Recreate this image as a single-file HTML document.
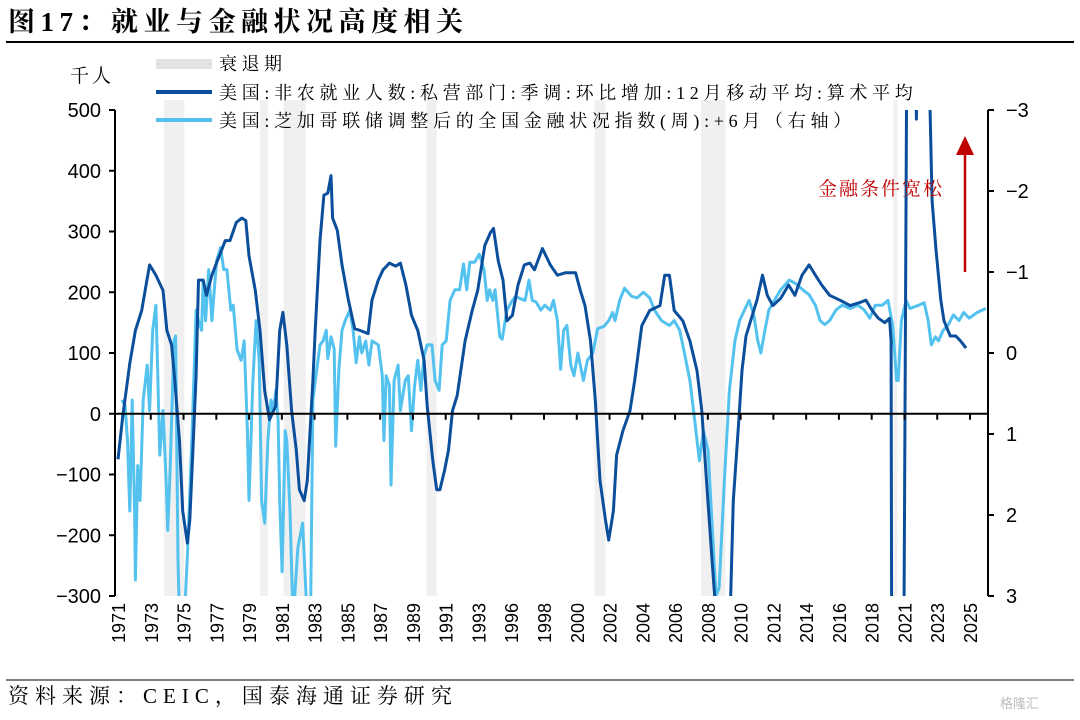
<!DOCTYPE html>
<html><head><meta charset="utf-8">
<style>
html,body{margin:0;padding:0;background:#fff;width:1080px;height:720px;overflow:hidden;}
svg{display:block;}
.serif{font-family:"Liberation Serif","Noto Serif CJK SC",serif;}
.sans{font-family:"Liberation Sans","Noto Sans CJK SC",sans-serif;}
</style></head>
<body>
<svg id="chart" width="1080" height="720" viewBox="0 0 1080 720">
  <text x="8" y="31" class="serif" font-size="27" font-weight="bold" letter-spacing="5.5" fill="#000">图17：就业与金融状况高度相关</text>
  <line x1="6" y1="42" x2="1074" y2="42" stroke="#000" stroke-width="2"/>
  <text x="70" y="82" class="serif" font-size="19" letter-spacing="3" fill="#000">千人</text>
  <g id="plot"></g>
  <g>
    <rect x="156" y="59" width="56" height="10" fill="#e3e3e3"/>
    <text x="219" y="70" class="serif" font-size="18" letter-spacing="4.5" fill="#000">衰退期</text>
    <line x1="156" y1="92" x2="212" y2="92" stroke="#0b4f9c" stroke-width="4"/>
    <text x="219" y="99" class="serif" font-size="18" letter-spacing="4.7" fill="#000">美国:非农就业人数:私营部门:季调:环比增加:12月移动平均:算术平均</text>
    <line x1="156" y1="120" x2="212" y2="120" stroke="#54c2ef" stroke-width="4"/>
    <text x="219" y="127" class="serif" font-size="18" letter-spacing="4.7" fill="#000">美国:芝加哥联储调整后的全国金融状况指数(周):+6月（右轴）</text>
  </g>
  <text x="818" y="195" class="serif" font-size="19" letter-spacing="2" fill="#c00000">金融条件宽松</text>
  <line x1="965" y1="272" x2="965" y2="152" stroke="#c00000" stroke-width="2.5"/>
  <polygon points="956,155 974,155 965,136" fill="#c00000"/>
  <line x1="6" y1="680" x2="1074" y2="680" stroke="#000" stroke-width="1"/>
  <text x="8" y="703" class="serif" font-size="21" letter-spacing="6" fill="#000">资料来源：CEIC，国泰海通证券研究</text>
  <text x="1000" y="708" class="sans" font-size="13" fill="#bbb">格隆汇</text>
</svg>
<script>
const recessions=[[1973.9,1975.2],[1980.0,1980.5],[1981.5,1982.9],[1990.55,1991.2],[2001.2,2001.9],[2007.95,2009.5],[2020.15,2020.4]];
const leftTicks=[500,400,300,200,100,0,-100,-200,-300];
const rightTicks=[-3,-2,-1,0,1,2,3];
const rightTickLabels=["−3","−2","−1","0","1","2","3"];
const yearLabels=["1971","1973","1975","1977","1979","1981","1983","1985","1987","1989","1991","1993","1996","1998","2000","2002","2004","2006","2008","2010","2012","2014","2016","2018","2021","2023","2025"];
const payrollYears=[1971.0,1971.3,1971.75,1972.1,1972.5,1972.8,1973.0,1973.4,1973.85,1974.1,1974.4,1974.6,1974.9,1975.1,1975.4,1975.55,1975.75,1975.95,1976.1,1976.4,1976.6,1976.95,1977.3,1977.8,1978.1,1978.5,1978.85,1979.1,1979.3,1979.7,1980.0,1980.3,1980.6,1981.0,1981.25,1981.45,1981.7,1982.0,1982.3,1982.5,1982.8,1983.0,1983.35,1983.5,1983.8,1984.05,1984.3,1984.5,1984.6,1984.9,1985.2,1985.6,1986.0,1986.35,1986.85,1987.1,1987.5,1987.8,1988.2,1988.6,1988.9,1989.25,1989.6,1990.0,1990.4,1990.6,1990.95,1991.2,1991.4,1991.7,1991.95,1992.2,1992.5,1993.0,1993.45,1993.8,1994.25,1994.6,1994.8,1995.1,1995.4,1995.65,1996.0,1996.35,1996.75,1997.1,1997.4,1997.9,1998.4,1998.85,1999.35,2000.0,2000.3,2000.6,2000.95,2001.25,2001.55,2001.9,2002.1,2002.4,2002.6,2003.0,2003.45,2003.75,2004.2,2004.7,2005.35,2005.65,2005.95,2006.25,2006.8,2007.25,2007.7,2008.0,2008.3,2008.65,2008.9,2009.3,2009.8,2010.0,2010.3,2010.55,2010.8,2011.2,2011.5,2011.85,2012.15,2012.5,2013.0,2013.5,2013.9,2014.35,2014.8,2015.2,2015.6,2016.1,2016.75,2017.4,2018.0,2018.4,2018.8,2019.2,2019.6,2019.9,2020.0,2020.15,2020.5,2021.05,2021.5,2021.6,2021.75,2022.2,2022.45,2022.6,2022.85,2023.15,2023.35,2023.75,2024.1,2024.4,2024.75,2025.0];
const payrollValues=[-75,-5,83,137,170,215,245,228,203,137,113,55,-45,-160,-213,-175,-60,63,220,220,195,228,252,285,285,315,322,318,260,203,137,38,-10,13,137,167,113,5,-60,-125,-143,-110,55,137,285,360,363,392,322,302,245,187,140,137,132,187,220,237,248,243,248,212,162,137,88,13,-77,-125,-125,-93,-60,5,30,120,170,203,277,298,305,252,220,153,162,212,245,248,237,272,245,228,232,232,203,178,120,22,-110,-175,-208,-160,-68,-28,5,55,145,170,178,228,228,170,153,120,71,5,-110,-240,-330,-400,-330,-143,-28,71,128,162,187,228,195,178,190,212,195,228,245,228,212,195,187,178,183,187,170,157,150,157,120,-2000,-2000,900,700,485,800,900,520,350,268,187,153,128,128,120,108];
const nfciYears=[1971.25,1971.45,1971.6,1971.75,1971.9,1972.05,1972.1,1972.25,1972.4,1972.6,1972.85,1973.0,1973.2,1973.4,1973.5,1973.65,1973.85,1974.05,1974.15,1974.3,1974.55,1974.65,1974.8,1974.9,1975.2,1975.4,1975.7,1975.95,1976.1,1976.3,1976.4,1976.55,1976.75,1976.95,1977.25,1977.5,1977.7,1977.9,1978.15,1978.3,1978.55,1978.8,1979.0,1979.2,1979.3,1979.55,1979.75,1979.95,1980.1,1980.3,1980.5,1980.7,1980.85,1981.0,1981.15,1981.25,1981.4,1981.6,1981.7,1981.9,1982.1,1982.4,1982.7,1983.0,1983.2,1983.35,1983.6,1983.8,1984.0,1984.2,1984.3,1984.5,1984.7,1984.8,1985.0,1985.2,1985.4,1985.7,1985.9,1986.1,1986.3,1986.45,1986.7,1986.9,1987.1,1987.5,1987.75,1987.85,1988.0,1988.2,1988.3,1988.5,1988.75,1988.9,1989.2,1989.4,1989.6,1989.8,1990.0,1990.2,1990.4,1990.6,1990.9,1991.1,1991.35,1991.55,1991.8,1992.05,1992.35,1992.65,1992.9,1993.1,1993.3,1993.6,1993.9,1994.2,1994.4,1994.55,1994.75,1994.9,1995.2,1995.35,1995.65,1996.0,1996.2,1996.5,1996.8,1997.05,1997.25,1997.5,1997.8,1998.05,1998.4,1998.6,1998.85,1999.05,1999.25,1999.45,1999.7,1999.9,2000.15,2000.3,2000.5,2000.75,2001.1,2001.4,2001.8,2002.1,2002.35,2002.5,2002.8,2003.1,2003.55,2003.9,2004.3,2004.7,2005.0,2005.45,2005.95,2006.25,2006.6,2006.9,2007.25,2007.55,2007.85,2008.1,2008.4,2008.65,2008.9,2009.1,2009.45,2009.75,2010.1,2010.4,2010.7,2011.0,2011.3,2011.55,2011.75,2012.0,2012.25,2012.6,2013.0,2013.55,2014.0,2014.4,2014.8,2015.2,2015.5,2015.8,2016.1,2016.5,2016.9,2017.4,2017.9,2018.3,2018.65,2019.0,2019.45,2019.8,2020.1,2020.35,2020.45,2020.65,2020.95,2021.2,2021.75,2022.1,2022.35,2022.55,2022.8,2023.0,2023.3,2023.6,2023.95,2024.3,2024.6,2024.95,2025.45,2026.0];
const nfciValues=[0.58,0.65,1.08,1.95,0.58,1.95,2.8,1.39,1.82,0.58,0.15,0.71,-0.28,-0.59,0.09,1.26,0.71,1.57,2.19,1.45,-0.15,-0.21,2.56,3.3,3.3,2.5,0.96,-0.53,-0.4,-0.28,-0.9,-0.4,-1.03,-0.4,-1.14,-1.3,-1.03,-1.03,-0.53,-0.59,-0.04,0.09,-0.15,0.96,1.82,0.34,-0.4,0.09,1.82,2.1,1.08,0.58,0.71,0.46,0.83,1.82,2.7,0.96,1.08,1.95,3.3,2.4,2.1,3.3,3.3,0.58,0.2,-0.1,-0.15,-0.28,0.07,-0.2,-0.05,1.15,0.2,-0.28,-0.4,-0.53,-0.28,0.12,-0.2,0,-0.15,0.15,-0.15,-0.1,0.28,1.08,0.28,0.4,1.63,0.34,0.15,0.71,0.34,0.28,0.96,0.4,0.09,0.46,0.03,-0.1,-0.1,0.34,0.46,-0.1,-0.15,-0.65,-0.78,-0.78,-1.1,-0.78,-1.12,-1.12,-1.22,-1.03,-0.65,-0.78,-0.65,-0.78,-0.2,-0.17,-0.53,-0.65,-0.7,-0.67,-0.65,-0.9,-0.65,-0.63,-0.53,-0.59,-0.53,-0.65,-0.4,0.2,-0.28,-0.34,0.15,0.28,0,0.15,0.34,0.09,0,-0.3,-0.33,-0.4,-0.5,-0.4,-0.65,-0.8,-0.7,-0.68,-0.75,-0.68,-0.53,-0.4,-0.34,-0.4,-0.28,0,0.34,0.83,1.33,0.96,1.2,2.1,3.0,2.9,1.5,0.46,-0.15,-0.4,-0.53,-0.65,-0.47,-0.15,0,-0.28,-0.53,-0.65,-0.78,-0.9,-0.85,-0.78,-0.72,-0.59,-0.4,-0.35,-0.4,-0.53,-0.59,-0.55,-0.59,-0.53,-0.43,-0.59,-0.59,-0.65,-0.34,0.34,0.34,-0.4,-0.65,-0.55,-0.59,-0.62,-0.4,-0.1,-0.2,-0.15,-0.28,-0.34,-0.47,-0.4,-0.5,-0.43,-0.5,-0.55];

const NS="http://www.w3.org/2000/svg";
const X0=118, X1=970, Y0=1971, Y1=2025;
const PL=115, PR=988, PT=110, PB=596;
function xScale(yr){return X0+(yr-Y0)*(X1-X0)/(Y1-Y0);}
function yLeft(v){return PT+(500-v)*(PB-PT)/800;}
function yRight(v){return PT+(v+3)*(PB-PT)/6;}
const plot=document.getElementById('plot');
function mk(tag,attrs,parent){const e=document.createElementNS(NS,tag);for(const k in attrs)e.setAttribute(k,attrs[k]);(parent||plot).appendChild(e);return e;}

const defs=mk('defs',{});
const cp=mk('clipPath',{id:'clip'},defs);
mk('rect',{x:PL,y:PT,width:PR-PL,height:PB-PT},cp);

recessions.forEach(r=>{
  const e=mk('rect',{x:xScale(r[0]),y:PT-10,width:Math.max(2,xScale(r[1])-xScale(r[0])),height:PB-PT+10,fill:'#f0f0f0'});
  
  
});

function pathFrom(xs,ys,fy){return xs.map((t,i)=>(i?'L':'M')+xScale(t).toFixed(1)+','+fy(ys[i]).toFixed(1)).join(' ');}
const nf=mk('path',{d:pathFrom(nfciYears,nfciValues,yRight),fill:'none',stroke:'#54c2ef','stroke-width':3,'stroke-linejoin':'round','clip-path':'url(#clip)'});


const pr=mk('path',{d:pathFrom(payrollYears,payrollValues,yLeft),fill:'none',stroke:'#0b4f9c','stroke-width':3,'stroke-linejoin':'round','clip-path':'url(#clip)'});



const la=mk('line',{x1:PL,y1:PT,x2:PL,y2:PB,stroke:'#000','stroke-width':2});


const ra=mk('line',{x1:PR,y1:PT,x2:PR,y2:PB,stroke:'#000','stroke-width':2});


const za=mk('line',{x1:PL,y1:yLeft(0),x2:PR,y2:yLeft(0),stroke:'#000','stroke-width':2});



leftTicks.forEach(v=>{
  const y=yLeft(v);
  const t=mk('line',{x1:PL-6,y1:y,x2:PL,y2:y,stroke:'#000','stroke-width':2});
  
  
  const l=mk('text',{x:PL-14,y:y+7,'text-anchor':'end','font-size':20,class:'sans',fill:'#000'});
  l.textContent=v<0?'−'+Math.abs(v):String(v);
  
  
});
rightTicks.forEach((v,i)=>{
  const y=yRight(v);
  const t=mk('line',{x1:PR,y1:y,x2:PR+6,y2:y,stroke:'#000','stroke-width':2});
  
  
  const l=mk('text',{x:PR+18,y:y+7,'font-size':20,class:'sans',fill:'#000'});
  l.textContent=rightTickLabels[i];
  
  
});
const step=(X1-X0)/(yearLabels.length-1);
yearLabels.forEach((lab,i)=>{
  const x=X0+i*step;
  if(i>0){
    const t=mk('line',{x1:x,y1:yLeft(0),x2:x,y2:yLeft(0)+6,stroke:'#000','stroke-width':2});
    
    
  }
  const l=mk('text',{x:0,y:0,transform:`translate(${x+7},${603}) rotate(-90)`,'text-anchor':'end','font-size':18,class:'sans',fill:'#000'});
  l.textContent=lab;
  
  
});
</script>
</body></html>
